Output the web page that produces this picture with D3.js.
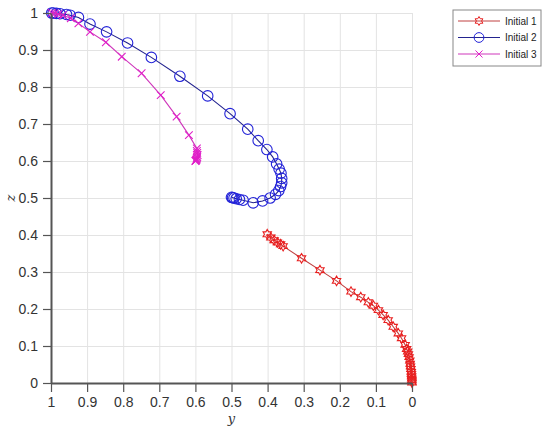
<!DOCTYPE html>
<html>
<head>
<meta charset="utf-8">
<script src="https://cdn.jsdelivr.net/npm/d3@7"></script>
<style>
body { margin: 0; background: #fff; }
svg text { font-family: "Liberation Sans", Arial, sans-serif; }
</style>
</head>
<body>
<svg id="chart"></svg>
<script>
// tick labels
var yTickVals = [1, 0.9, 0.8, 0.7, 0.6, 0.5, 0.4, 0.3, 0.2, 0.1, 0];
var zTickVals = [0, 0.1, 0.2, 0.3, 0.4, 0.5, 0.6, 0.7, 0.8, 0.9, 1];

// series names
var seriesNames = ["Initial 1", "Initial 2", "Initial 3"];

// Initial 1 (y, z)
var init1Y = [0.401, 0.391, 0.382, 0.373, 0.364, 0.357, 0.306, 0.255, 0.209, 0.169, 0.142, 0.121, 0.107, 0.093,
  0.080, 0.066, 0.052, 0.038, 0.029, 0.019, 0.015, 0.012, 0.010, 0.008, 0.006, 0.005, 0.004, 0.003, 0.002,
  0.0015, 0.001, 0.0007, 0.0004, 0.0002, 0];
var init1Z = [0.402, 0.393, 0.386, 0.380, 0.375, 0.370, 0.337, 0.305, 0.276, 0.247, 0.232, 0.218, 0.209, 0.197,
  0.184, 0.170, 0.152, 0.134, 0.121, 0.103, 0.092, 0.085, 0.078, 0.070, 0.061, 0.052, 0.045, 0.038, 0.030,
  0.024, 0.018, 0.012, 0.008, 0.004, 0.001];

// Initial 2 (y, z)
var init2Y = [0.998, 0.994, 0.985, 0.975, 0.957, 0.947, 0.924, 0.892, 0.846, 0.788, 0.722, 0.643, 0.566, 0.504,
  0.455, 0.426, 0.402, 0.386, 0.375, 0.368, 0.363, 0.361, 0.361, 0.364, 0.369, 0.378, 0.393, 0.414, 0.440,
  0.468, 0.478, 0.487, 0.493, 0.497, 0.5];
var init2Z = [1.0, 1.0, 0.999, 0.998, 0.996, 0.994, 0.988, 0.970, 0.949, 0.919, 0.880, 0.829, 0.776, 0.728,
  0.686, 0.655, 0.631, 0.611, 0.592, 0.578, 0.567, 0.553, 0.541, 0.531, 0.520, 0.510, 0.500, 0.492, 0.487,
  0.494, 0.496, 0.498, 0.500, 0.501, 0.502];

// Initial 3 (y, z)
var init3Y = [0.998, 0.99, 0.98, 0.967, 0.945, 0.924, 0.892, 0.848, 0.804, 0.749, 0.696, 0.652, 0.618, 0.596,
  0.596, 0.595, 0.594, 0.595, 0.596, 0.597, 0.598, 0.599, 0.6];
var init3Z = [1.0, 0.999, 0.997, 0.994, 0.986, 0.972, 0.949, 0.921, 0.882, 0.837, 0.778, 0.720, 0.670, 0.634,
  0.627, 0.622, 0.616, 0.611, 0.607, 0.604, 0.602, 0.601, 0.6];

//Measurements
var width = 545, height = 427;
var margin = {left: 51, top: 13, right: 133, bottom: 44};
var plotW = width - margin.left - margin.right;
var plotH = height - margin.top - margin.bottom;

// six pointed star marker
var hexagram = {
  draw: function(ctx, size) {
    var r = Math.sqrt(size) / 1.6, ri = r * 0.58;
    for (var i = 0; i < 12; i++) {
      var a = -Math.PI / 2 + i * Math.PI / 6;
      var rr = i % 2 === 0 ? r : ri;
      if (i === 0) ctx.moveTo(rr * Math.cos(a), rr * Math.sin(a));
      else ctx.lineTo(rr * Math.cos(a), rr * Math.sin(a));
    }
    ctx.closePath();
  }
};

var series = [
  {name: seriesNames[0], ys: init1Y, zs: init1Z, line: "#c04040", mark: "#e82020", symbol: hexagram, size: 60},
  {name: seriesNames[1], ys: init2Y, zs: init2Z, line: "#23238f", mark: "#2323d8", symbol: d3.symbolCircle, size: 88},
  {name: seriesNames[2], ys: init3Y, zs: init3Z, line: "#cf36bb", mark: "#e020c8", symbol: d3.symbolTimes, size: 40}
];

var xScale = d3.scaleLinear().domain([1, 0]).range([0, plotW]);
var yScale = d3.scaleLinear().domain([0, 1]).range([plotH, 0]);

var svg = d3.select('#chart')
  .attr('width', width)
  .attr('height', height);

var g = svg.append('g')
  .attr('transform', 'translate(' + margin.left + ',' + margin.top + ')');

// Grid
g.append('g')
  .attr('class', 'grid')
  .call(d3.axisBottom(xScale).tickValues(yTickVals).tickSize(plotH).tickFormat(''))
  .call(s => s.select('.domain').remove())
  .selectAll('line').attr('stroke', '#e3e3e3');
g.append('g')
  .attr('class', 'grid')
  .call(d3.axisLeft(yScale).tickValues(zTickVals).tickSize(-plotW).tickFormat(''))
  .call(s => s.select('.domain').remove())
  .selectAll('line').attr('stroke', '#e3e3e3');

// Series
var line = d3.line()
  .x(d => xScale(d[0]))
  .y(d => yScale(d[1]));

series.forEach(function(s) {
  var pts = s.ys.map((v, i) => [v, s.zs[i]]);
  g.append('path')
    .datum(pts)
    .attr('fill', 'none')
    .attr('stroke', s.line)
    .attr('stroke-width', 1.1)
    .attr('d', line);
  g.append('g')
    .selectAll('path')
    .data(pts)
    .enter()
    .append('path')
      .attr('transform', d => 'translate(' + xScale(d[0]) + ',' + yScale(d[1]) + ')')
      .attr('d', d3.symbol().type(s.symbol).size(s.size))
      .attr('fill', 'none')
      .attr('stroke', s.mark)
      .attr('stroke-width', 1.1);
});

// Axes
var xAxis = g.append('g')
  .attr('transform', 'translate(0,' + plotH + ')')
  .call(d3.axisBottom(xScale).tickValues(yTickVals).tickSize(9).tickSizeOuter(0).tickPadding(5)
    .tickFormat(d3.format('~g')));
var yAxis = g.append('g')
  .call(d3.axisLeft(yScale).tickValues(zTickVals).tickSize(8).tickSizeOuter(0).tickPadding(5)
    .tickFormat(d3.format('~g')));

[xAxis, yAxis].forEach(function(a) {
  a.select('.domain').attr('stroke', '#555').attr('stroke-width', 2);
  a.selectAll('.tick line').attr('stroke', '#555').attr('stroke-width', 1.2);
  a.selectAll('.tick text').attr('fill', '#333').style('font-size', '14px');
});

// Axis labels
svg.append('text')
  .attr('x', margin.left + plotW / 2)
  .attr('y', 423)
  .style('text-anchor', 'middle')
  .style('font-family', '"DejaVu Serif", "Liberation Serif", serif')
  .style('font-style', 'italic')
  .style('font-size', '13px')
  .attr('fill', '#333')
  .text('y');

svg.append('text')
  .attr('transform', 'translate(15,' + (margin.top + plotH / 2) + ') rotate(-90)')
  .style('text-anchor', 'middle')
  .style('font-family', '"DejaVu Serif", "Liberation Serif", serif')
  .style('font-style', 'italic')
  .style('font-size', '13px')
  .attr('fill', '#333')
  .text('z');

// Legend
var legend = svg.append('g').attr('transform', 'translate(453,10)');
legend.append('rect')
  .attr('width', 88)
  .attr('height', 56)
  .attr('fill', '#fff')
  .attr('stroke', '#888')
  .attr('stroke-width', 1);

var rows = legend.selectAll('.row')
  .data(series)
  .enter()
  .append('g')
    .attr('class', 'row')
    .attr('transform', (d, i) => 'translate(0,' + (11 + i * 16.5) + ')');
rows.append('line')
  .attr('x1', 5).attr('x2', 47)
  .attr('stroke', d => d.line);
rows.append('path')
  .attr('transform', 'translate(26,0)')
  .attr('d', d => d3.symbol().type(d.symbol).size(d.size * 0.85)())
  .attr('fill', 'none')
  .attr('stroke', d => d.mark);
rows.append('text')
  .attr('x', 52)
  .attr('dy', '0.35em')
  .style('font-size', '10px')
  .attr('fill', '#222')
  .text(d => d.name);
</script>
</body>
</html>
